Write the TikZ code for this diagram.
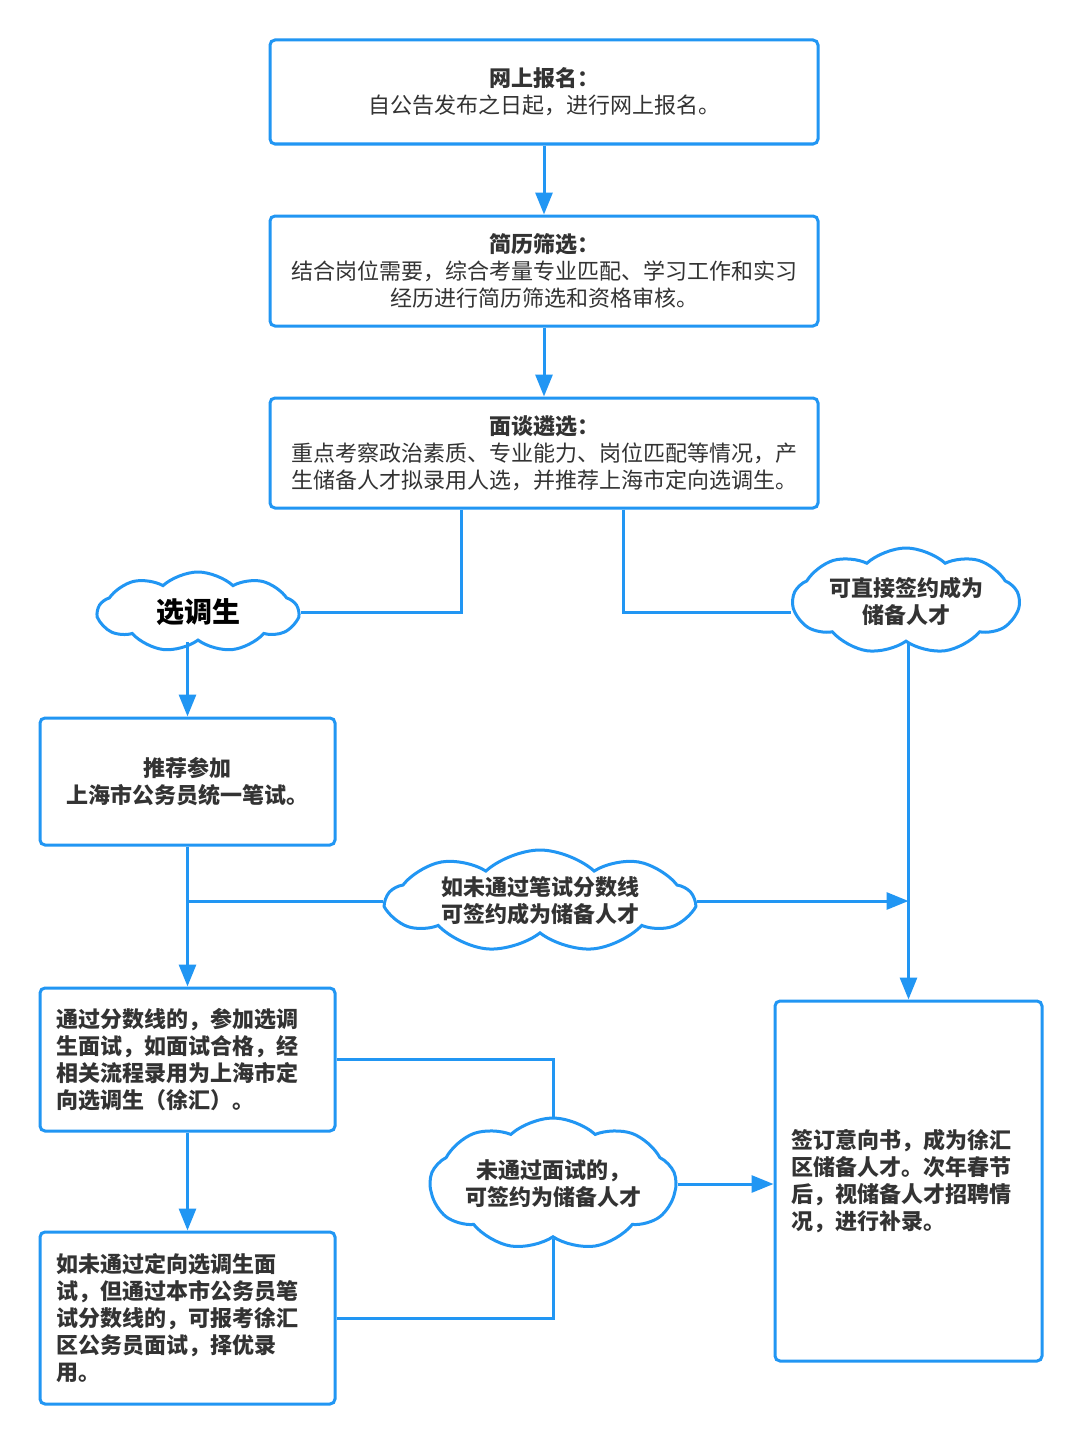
\documentclass[tikz,border=0pt]{standalone}
\usepackage{fontspec}
\setmainfont{Noto Sans CJK SC}
\usetikzlibrary{shapes.symbols,arrows.meta}
\definecolor{lineblue}{HTML}{2196F3}
\definecolor{txtgray}{HTML}{333333}

\begin{document}
\begin{tikzpicture}[x=0.5pt,y=-0.5pt,
   box/.style={draw=lineblue,line width=1.5pt,rounded corners=2.5pt,fill=white,
     text=txtgray,align=center,inner sep=0pt,font=\fontsize{11pt}{13.5pt}\selectfont},
   wide/.style={box,minimum width=274pt,minimum height=55pt},
   narrow/.style={box,minimum width=147.5pt,font=\bfseries\fontsize{11pt}{13.5pt}\selectfont},
   leftbox/.style={narrow,align=left,text width=131.5pt},
   puff/.style={cloud,draw=lineblue,line width=1.5pt,fill=white,text=txtgray,align=center,
     inner sep=0pt,cloud puffs=9,cloud puff arc=85,cloud ignores aspect,
     font=\bfseries\fontsize{11pt}{13.5pt}\selectfont},
   link/.style={draw=lineblue,line width=1.5pt},
   arrow/.style={link,-{Triangle[length=11pt,width=8.5pt]}}]

\fill[white] (0,0) rectangle (1080,1445);
\useasboundingbox (0,0) rectangle (1080,1445);

\node[wide,minimum height=52pt] (wsbm) at (544,92)
  {\textbf{网上报名：}\\自公告发布之日起，进行网上报名。};
\node[wide] (jlsx) at (544,271)
  {\textbf{简历筛选：}\\结合岗位需要，综合考量专业匹配、学习工作和实习\\经历进行简历筛选和资格审核。};
\node[wide] (mtlx) at (544,453)
  {\textbf{面谈遴选：}\\重点考察政治素质、专业能力、岗位匹配等情况，产\\生储备人才拟录用人选，并推荐上海市定向选调生。};

\node[puff,minimum width=100pt,minimum height=40pt,text=black,
  font=\bfseries\fontsize{14pt}{16pt}\selectfont] (xds) at (198,612) {选调生};
\node[puff,minimum width=113pt,minimum height=53pt] (zjqy) at (906,601)
  {可直接签约成为\\储备人才};

\node[narrow,minimum height=63.5pt] (tjcj) at (187.5,781.5)
  {推荐参加\\上海市公务员统一笔试。};
\node[puff,minimum width=153pt,minimum height=51pt] (wtbs) at (540,901)
  {如未通过笔试分数线\\可签约成为储备人才};

\node[leftbox,minimum height=71.5pt] (tgfs) at (187.5,1059.5)
  {通过分数线的，参加选调\\生面试，如面试合格，经\\相关流程录用为上海市定\\向选调生（徐汇）。};
\node[leftbox,minimum height=86pt] (rwtg) at (187.5,1318)
  {如未通过定向选调生面\\试，但通过本市公务员笔\\试分数线的，可报考徐汇\\区公务员面试，择优录\\用。};
\node[puff,minimum width=123pt,minimum height=66pt] (wtms) at (553,1184)
  {未通过面试的，\\可签约为储备人才};
\node[narrow,align=left,text width=117.5pt,minimum width=133.5pt,minimum height=180pt] (qdyx) at (908.5,1181)
  {签订意向书，成为徐汇\\区储备人才。次年春节\\后，视储备人才招聘情\\况，进行补录。};

\draw[arrow] (wsbm) -- (jlsx);
\draw[arrow] (jlsx) -- (mtlx);
\draw[link] ([xshift=-41.5pt]mtlx.south) |- (xds.east);
\draw[link] ([xshift=39.5pt]mtlx.south) |- (zjqy.west |- xds.east);
\draw[arrow] (xds.south -| tjcj.north) -- (tjcj.north);
\draw[arrow] (tjcj) -- (tgfs);
\draw[link] (tjcj.south |- wtbs.west) -- (wtbs.west);
\draw[arrow] (wtbs.east) -- (wtbs.east -| qdyx.north);
\draw[arrow] (zjqy.south -| qdyx.north) -- (qdyx.north);
\draw[arrow] (tgfs) -- (rwtg);
\draw[link] (tgfs.east) -| (wtms.north);
\draw[link] (rwtg.east) -| (wtms.south);
\draw[arrow] (wtms.east) -- (wtms.east -| qdyx.west);

\end{tikzpicture}
\end{document}
